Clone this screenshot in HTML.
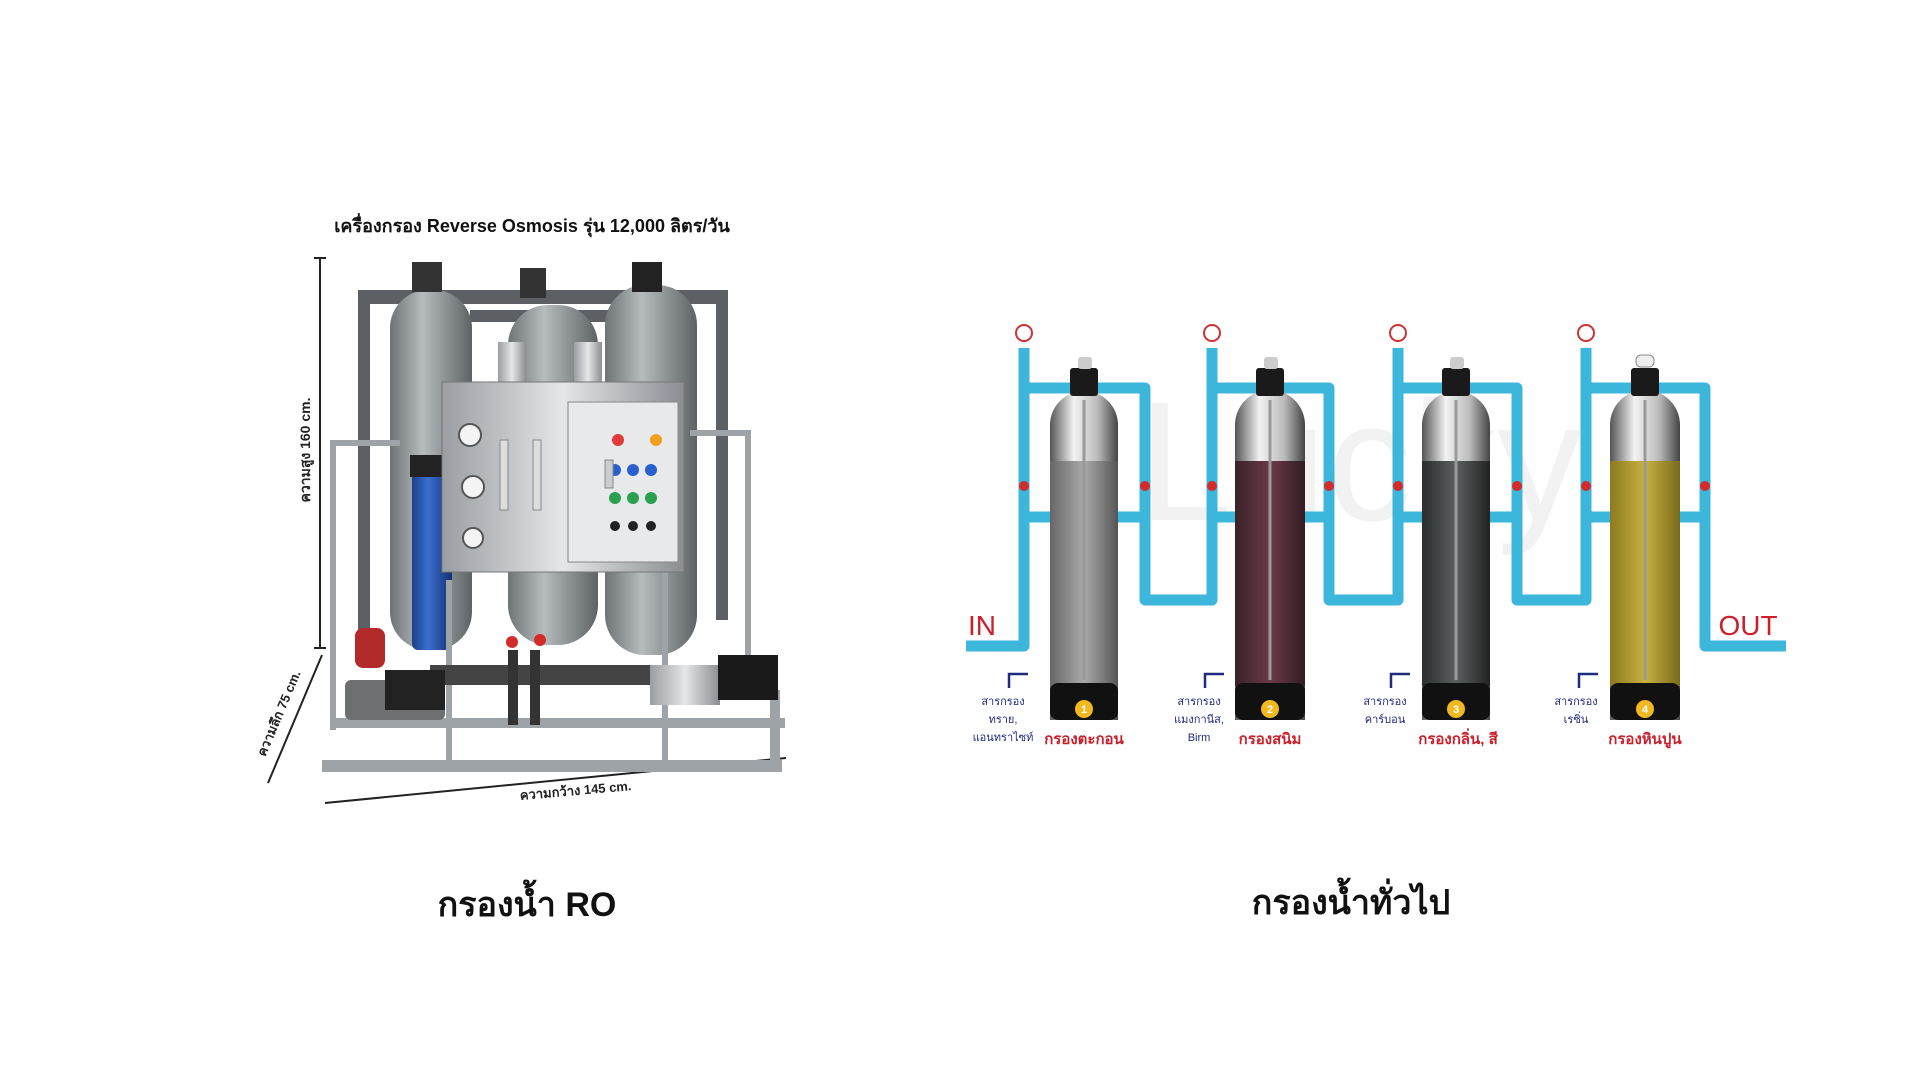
<!DOCTYPE html>
<html><head><meta charset="utf-8"><style>
html,body{margin:0;padding:0;background:#fff;width:1920px;height:1080px;overflow:hidden}
svg{display:block}
text{font-family:"Liberation Sans","Noto Sans CJK SC",sans-serif}
</style></head><body>
<svg width="1920" height="1080" viewBox="0 0 1920 1080" xmlns="http://www.w3.org/2000/svg">
<defs>
<linearGradient id="silver" x1="0" x2="1"><stop offset="0" stop-color="#555"/><stop offset=".35" stop-color="#f2f2f2"/><stop offset=".7" stop-color="#bbb"/><stop offset="1" stop-color="#444"/></linearGradient>
<linearGradient id="gray" x1="0" x2="1"><stop offset="0" stop-color="#6e7476"/><stop offset=".4" stop-color="#b6bcbd"/><stop offset="1" stop-color="#5d6264"/></linearGradient>
<linearGradient id="m1" x1="0" x2="1"><stop offset="0" stop-color="#666"/><stop offset=".5" stop-color="#aaa"/><stop offset="1" stop-color="#555"/></linearGradient>
<linearGradient id="m2" x1="0" x2="1"><stop offset="0" stop-color="#3a2228"/><stop offset=".5" stop-color="#6b3a48"/><stop offset="1" stop-color="#321c22"/></linearGradient>
<linearGradient id="m3" x1="0" x2="1"><stop offset="0" stop-color="#2b2d2e"/><stop offset=".5" stop-color="#5c5f60"/><stop offset="1" stop-color="#222"/></linearGradient>
<linearGradient id="m4" x1="0" x2="1"><stop offset="0" stop-color="#8c7a20"/><stop offset=".5" stop-color="#c8b040"/><stop offset="1" stop-color="#7a6a1a"/></linearGradient>
<linearGradient id="ss" x1="0" x2="1"><stop offset="0" stop-color="#9a9ea2"/><stop offset=".5" stop-color="#e4e6e8"/><stop offset="1" stop-color="#8a8e92"/></linearGradient>
<linearGradient id="blue" x1="0" x2="1"><stop offset="0" stop-color="#1a3f8a"/><stop offset=".4" stop-color="#3a6fcf"/><stop offset="1" stop-color="#153070"/></linearGradient>
</defs>

<!-- LEFT: RO machine -->
<text x="532" y="232" font-size="18" font-weight="bold" text-anchor="middle" fill="#111" font-family="Liberation Serif, Noto Serif CJK SC, serif">เครื่องกรอง Reverse Osmosis รุ่น 12,000 ลิตร/วัน</text>
<!-- dimension lines -->
<g stroke="#222" stroke-width="2" fill="none">
<line x1="320" y1="258" x2="320" y2="648"/><line x1="314" y1="258" x2="326" y2="258"/><line x1="314" y1="648" x2="326" y2="648"/>
<line x1="322" y1="655" x2="268" y2="783"/>
<line x1="325" y1="803" x2="786" y2="758"/>
</g>
<text transform="translate(310,450) rotate(-90)" font-size="14" font-weight="bold" text-anchor="middle" fill="#222" font-family="Liberation Serif, Noto Serif CJK SC, serif">ความสูง 160 cm.</text>
<text transform="translate(283,715) rotate(-67)" font-size="13" font-weight="bold" text-anchor="middle" fill="#222" font-family="Liberation Serif, Noto Serif CJK SC, serif">ความลึก 75 cm.</text>
<text transform="translate(576,795) rotate(-5)" font-size="13" font-weight="bold" text-anchor="middle" fill="#222" font-family="Liberation Serif, Noto Serif CJK SC, serif">ความกว้าง 145 cm.</text>
<!-- pipes back -->
<g fill="#5c6064">
<rect x="358" y="290" width="370" height="14"/><rect x="358" y="290" width="12" height="350"/><rect x="716" y="290" width="12" height="330"/>
<rect x="470" y="310" width="220" height="12"/>
</g>
<!-- gray tanks -->
<rect x="390" y="290" width="82" height="360" rx="38" fill="url(#gray)"/>
<rect x="508" y="305" width="90" height="340" rx="40" fill="url(#gray)"/>
<rect x="605" y="285" width="92" height="370" rx="40" fill="url(#gray)"/>
<rect x="412" y="262" width="30" height="30" fill="#333"/><rect x="520" y="268" width="26" height="30" fill="#333"/><rect x="632" y="262" width="30" height="30" fill="#222"/>
<!-- stainless columns -->
<rect x="498" y="342" width="28" height="60" fill="url(#ss)"/><rect x="574" y="342" width="28" height="60" fill="url(#ss)"/>
<!-- blue filter -->
<rect x="412" y="460" width="40" height="190" rx="6" fill="url(#blue)"/><rect x="410" y="455" width="44" height="22" fill="#222"/>
<!-- frame -->
<g fill="#9ea3a7">
<rect x="330" y="440" width="6" height="290"/><rect x="330" y="440" width="70" height="6"/>
<rect x="745" y="430" width="6" height="260"/><rect x="690" y="430" width="60" height="6"/>
<rect x="322" y="760" width="460" height="12"/><rect x="335" y="718" width="450" height="10"/>
<rect x="446" y="580" width="6" height="185"/><rect x="662" y="560" width="6" height="200"/>
<rect x="770" y="690" width="10" height="75"/>
</g>
<!-- stainless box -->
<rect x="442" y="382" width="242" height="190" fill="url(#ss)" stroke="#777"/>
<rect x="568" y="402" width="110" height="160" fill="#e8e9ea" stroke="#888"/>
<g fill="#e23a3a"><circle cx="618" cy="440" r="6"/></g><circle cx="656" cy="440" r="6" fill="#f0a020"/>
<g fill="#2a5fd0"><circle cx="615" cy="470" r="6"/><circle cx="633" cy="470" r="6"/><circle cx="651" cy="470" r="6"/></g>
<g fill="#2aa050"><circle cx="615" cy="498" r="6"/><circle cx="633" cy="498" r="6"/><circle cx="651" cy="498" r="6"/></g>
<g fill="#222"><circle cx="615" cy="526" r="5"/><circle cx="633" cy="526" r="5"/><circle cx="651" cy="526" r="5"/></g>
<rect x="605" y="460" width="8" height="28" fill="#ccc" stroke="#888"/>
<g fill="#f4f4f4" stroke="#555" stroke-width="2"><circle cx="470" cy="435" r="11"/><circle cx="473" cy="487" r="11"/><circle cx="473" cy="538" r="10"/></g>
<rect x="500" y="440" width="8" height="70" fill="#ddd" stroke="#888"/><rect x="533" y="440" width="8" height="70" fill="#ddd" stroke="#888"/>
<!-- bottom parts -->
<rect x="430" y="665" width="340" height="20" fill="#444"/>
<rect x="345" y="680" width="100" height="40" fill="#6d6f70" rx="6"/><rect x="385" y="670" width="60" height="40" fill="#222"/>
<rect x="355" y="628" width="30" height="40" rx="8" fill="#b22a2a"/>
<rect x="650" y="665" width="70" height="40" fill="url(#ss)"/><rect x="718" y="655" width="60" height="45" fill="#1a1a1a"/>
<g fill="#d42a2a"><circle cx="512" cy="642" r="6"/><circle cx="540" cy="640" r="6"/></g>
<rect x="508" y="650" width="10" height="75" fill="#333"/><rect x="530" y="650" width="10" height="75" fill="#333"/>
<text x="527" y="916" font-size="34" font-weight="bold" text-anchor="middle" fill="#111">กรองน้ำ RO</text>

<!-- RIGHT: filter diagram -->
<text x="1360" y="520" font-size="170" fill="#f2f2f2" text-anchor="middle" font-family="Liberation Serif, serif">Lucky</text>
<g fill="none" stroke="#3db6dc" stroke-width="11" stroke-linejoin="round">
<polyline points="966,646 1024,646 1024,348"/>
<polyline points="1024,388 1145,388 1145,600 1212,600 1212,348"/>
<polyline points="1212,388 1329,388 1329,600 1398,600 1398,348"/>
<polyline points="1398,388 1517,388 1517,600 1586,600 1586,348"/>
<polyline points="1586,388 1705,388 1705,646 1786,646"/>
<line x1="1024" y1="517" x2="1050" y2="517"/><line x1="1118" y1="517" x2="1145" y2="517"/>
<line x1="1212" y1="517" x2="1235" y2="517"/><line x1="1305" y1="517" x2="1329" y2="517"/>
<line x1="1398" y1="517" x2="1422" y2="517"/><line x1="1489" y1="517" x2="1517" y2="517"/>
<line x1="1586" y1="517" x2="1610" y2="517"/><line x1="1680" y1="517" x2="1705" y2="517"/>
</g>
<g fill="#d42a2a">
<circle cx="1024" cy="486" r="5"/><circle cx="1145" cy="486" r="5"/><circle cx="1212" cy="486" r="5"/><circle cx="1329" cy="486" r="5"/>
<circle cx="1398" cy="486" r="5"/><circle cx="1517" cy="486" r="5"/><circle cx="1586" cy="486" r="5"/><circle cx="1705" cy="486" r="5"/>
</g>
<g fill="#fff" stroke="#c33" stroke-width="2">
<circle cx="1024" cy="333" r="8"/><circle cx="1212" cy="333" r="8"/><circle cx="1398" cy="333" r="8"/><circle cx="1586" cy="333" r="8"/>
</g>
<!-- tanks -->
<g>
<path d="M1050,720 V425 a34,34 0 0 1 68,0 V720 Z" fill="url(#silver)"/>
<rect x="1050" y="461" width="68" height="225" fill="url(#m1)"/>
<rect x="1050" y="683" width="68" height="37" rx="8" fill="#111"/>
<path d="M1235,720 V425 a35,35 0 0 1 70,0 V720 Z" fill="url(#silver)"/>
<rect x="1235" y="461" width="70" height="225" fill="url(#m2)"/>
<rect x="1235" y="683" width="70" height="37" rx="8" fill="#111"/>
<path d="M1422,720 V425 a34,34 0 0 1 68,0 V720 Z" fill="url(#silver)"/>
<rect x="1422" y="461" width="68" height="225" fill="url(#m3)"/>
<rect x="1422" y="683" width="68" height="37" rx="8" fill="#111"/>
<path d="M1610,720 V425 a35,35 0 0 1 70,0 V720 Z" fill="url(#silver)"/>
<rect x="1610" y="461" width="70" height="225" fill="url(#m4)"/>
<rect x="1610" y="683" width="70" height="37" rx="8" fill="#111"/>
</g>
<g stroke="#999" stroke-width="3"><line x1="1084" y1="400" x2="1084" y2="680"/><line x1="1270" y1="400" x2="1270" y2="680"/><line x1="1456" y1="400" x2="1456" y2="680"/><line x1="1645" y1="400" x2="1645" y2="680"/></g>
<g fill="#1a1a1a">
<rect x="1070" y="368" width="28" height="28" rx="3"/><rect x="1256" y="368" width="28" height="28" rx="3"/><rect x="1442" y="368" width="28" height="28" rx="3"/><rect x="1631" y="368" width="28" height="28" rx="3"/>
</g>
<g fill="#ccc"><rect x="1078" y="357" width="14" height="12" rx="3"/><rect x="1264" y="357" width="14" height="12" rx="3"/><rect x="1450" y="357" width="14" height="12" rx="3"/><rect x="1636" y="355" width="18" height="12" rx="5" fill="#eee" stroke="#888"/></g>
<g fill="#f2b820"><circle cx="1084" cy="709" r="9"/><circle cx="1270" cy="709" r="9"/><circle cx="1456" cy="709" r="9"/><circle cx="1645" cy="709" r="9"/></g>
<g fill="#fff" font-size="11" font-weight="bold" text-anchor="middle"><text x="1084" y="713">1</text><text x="1270" y="713">2</text><text x="1456" y="713">3</text><text x="1645" y="713">4</text></g>
<text x="982" y="635" font-size="28" fill="#cc1f2a" text-anchor="middle">IN</text>
<text x="1748" y="635" font-size="28" fill="#cc1f2a" text-anchor="middle">OUT</text>
<g fill="none" stroke="#1f2a80" stroke-width="2.5">
<polyline points="1009,688 1009,674 1028,674"/><polyline points="1205,688 1205,674 1224,674"/><polyline points="1391,688 1391,674 1410,674"/><polyline points="1579,688 1579,674 1598,674"/>
</g>
<g fill="#1f2a80" font-size="11" text-anchor="middle">
<text x="1003" y="705">สารกรอง</text><text x="1003" y="723">ทราย,</text><text x="1003" y="741">แอนทราไซท์</text>
<text x="1199" y="705">สารกรอง</text><text x="1199" y="723">แมงกานีส,</text><text x="1199" y="741">Birm</text>
<text x="1385" y="705">สารกรอง</text><text x="1385" y="723">คาร์บอน</text>
<text x="1576" y="705">สารกรอง</text><text x="1576" y="723">เรซิ่น</text>
</g>
<g fill="#cc1f2a" font-size="15" font-weight="bold" text-anchor="middle">
<text x="1084" y="744">กรองตะกอน</text><text x="1270" y="744">กรองสนิม</text><text x="1458" y="744">กรองกลิ่น, สี</text><text x="1645" y="744">กรองหินปูน</text>
</g>
<text x="1351" y="914" font-size="34" font-weight="bold" text-anchor="middle" fill="#111">กรองน้ำทั่วไป</text>
</svg>
</body></html>
